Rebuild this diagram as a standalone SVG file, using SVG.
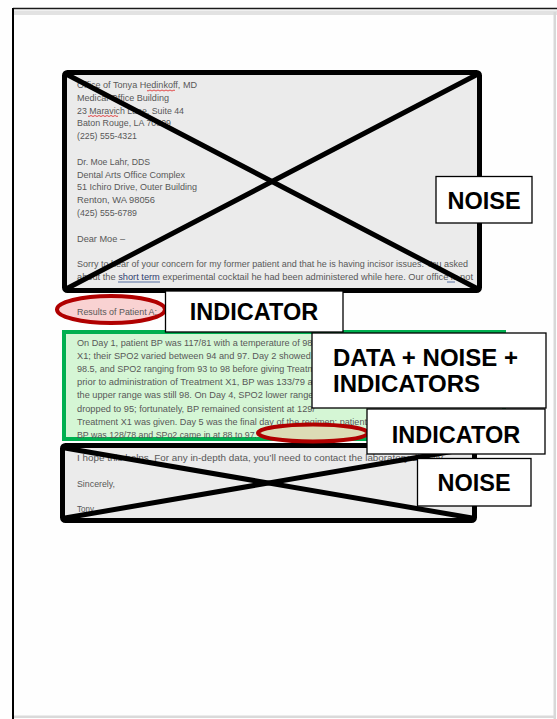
<svg xmlns="http://www.w3.org/2000/svg" width="557" height="719" viewBox="0 0 557 719">
<defs>
<style>
.doc{font-family:"Liberation Sans",Arial,sans-serif;font-size:8.6px;fill:#585858}
.lbl{font-family:"Liberation Sans",Arial,sans-serif;font-size:23.5px;font-weight:bold;fill:#000}
.lbox{fill:#fff;stroke:#000;stroke-width:1.3}
.gbox{fill:#ebebeb;stroke:#000;stroke-width:5;stroke-linejoin:round}
.xl{stroke:#000;stroke-width:5;stroke-linecap:round}
.sq{fill:none;stroke:#d22;stroke-width:0.8}
.ul{stroke:#2f4f8f;stroke-width:0.8}
</style>
</defs>
<rect x="0" y="0" width="557" height="719" fill="#fefefe"/>
<g id="page">
<rect x="14" y="10.5" width="543" height="4.5" fill="#e2e2e2"/>
<line x1="13" y1="8.5" x2="557" y2="8.5" stroke="#1a1a1a" stroke-width="1.6"/>
<line x1="13" y1="8" x2="13" y2="719" stroke="#000" stroke-width="2"/>
<rect x="553.5" y="12" width="2.5" height="707" fill="#d8d8d8"/>
<rect x="14" y="715.5" width="541" height="2.5" fill="#dadada"/>
</g>
<g id="noise-block-1">
<rect class="gbox" x="64.5" y="72.5" width="415" height="218" rx="3"/>
<text class="doc" x="77" y="88" textLength="120" lengthAdjust="spacingAndGlyphs">Office of Tonya Hedinkoff, MD</text>
<text class="doc" x="77" y="100.8" textLength="92" lengthAdjust="spacingAndGlyphs">Medical Office Building</text>
<text class="doc" x="77" y="113.6" textLength="107" lengthAdjust="spacingAndGlyphs">23 Maravich Lane, Suite 44</text>
<text class="doc" x="77" y="126.4" textLength="94" lengthAdjust="spacingAndGlyphs">Baton Rouge, LA  70809</text>
<text class="doc" x="77" y="139.2" textLength="60" lengthAdjust="spacingAndGlyphs">(225) 555-4321</text>
<text class="doc" x="77" y="164.8" textLength="73" lengthAdjust="spacingAndGlyphs">Dr. Moe Lahr, DDS</text>
<text class="doc" x="77" y="177.6" textLength="108" lengthAdjust="spacingAndGlyphs">Dental Arts Office Complex</text>
<text class="doc" x="77" y="190.4" textLength="120" lengthAdjust="spacingAndGlyphs">51 Ichiro Drive, Outer Building</text>
<text class="doc" x="77" y="203.2" textLength="78" lengthAdjust="spacingAndGlyphs">Renton, WA  98056</text>
<text class="doc" x="77" y="216" textLength="60" lengthAdjust="spacingAndGlyphs">(425) 555-6789</text>
<text class="doc" x="77" y="241.6" textLength="48" lengthAdjust="spacingAndGlyphs">Dear Moe –</text>
<text class="doc" x="77" y="267.2" textLength="391" lengthAdjust="spacingAndGlyphs">Sorry to hear of your concern for my former patient and that he is having incisor issues.  You asked</text>
<text class="doc" x="77" y="280" textLength="396" lengthAdjust="spacingAndGlyphs">about the <tspan fill="#2f3f6f">short term</tspan> experimental cocktail he had been administered while here.  Our office is not</text>
<path class="sq" d="M147 90.5 q1 1 2 0 t2 0 t2 0 t2 0 t2 0 t2 0 t2 0 t2 0 t2 0 t2 0 t2 0 t2 0 t2 0 t2 0"/>
<path class="sq" d="M88 116 q1 1 2 0 t2 0 t2 0 t2 0 t2 0 t2 0 t2 0 t2 0 t2 0 t2 0 t2 0 t2 0 t2 0 t2 0 t2 0"/>
<line class="ul" x1="118" y1="282" x2="160" y2="282"/>
<line class="ul" x1="447" y1="282" x2="455" y2="282"/>
<line class="xl" x1="66" y1="74" x2="478" y2="289"/>
<line class="xl" x1="478" y1="74" x2="66" y2="289"/>
</g>
<g id="noise-label-1">
<rect class="lbox" x="436" y="176.5" width="96" height="46.5"/>
<text class="lbl" x="484" y="208.5" text-anchor="middle">NOISE</text>
</g>
<g id="noise-block-2">
<rect class="gbox" x="62.5" y="445.5" width="412" height="75" rx="3"/>
<text class="doc" x="77" y="461" textLength="368" lengthAdjust="spacingAndGlyphs">I hope this helps.  For any in-depth data, you’ll need to contact the laboratory directly.</text>
<text class="doc" x="77" y="486.6" textLength="38" lengthAdjust="spacingAndGlyphs">Sincerely,</text>
<text class="doc" x="77" y="512.2" textLength="17" lengthAdjust="spacingAndGlyphs">Tony</text>
<line class="xl" x1="65" y1="448" x2="472" y2="518"/>
<line class="xl" x1="472" y1="448" x2="65" y2="518"/>
</g>
<g id="data-block">
<rect x="64" y="332" width="440" height="107" fill="#d5f6d5" stroke="#00b050" stroke-width="4"/>
<text class="doc" x="77" y="346" textLength="238" lengthAdjust="spacingAndGlyphs">On Day 1, patient BP was 117/81 with a temperature of 98.</text>
<text class="doc" x="77" y="359.1" textLength="243" lengthAdjust="spacingAndGlyphs">X1; their SPO2 varied between 94 and 97.  Day 2 showed lit</text>
<text class="doc" x="77" y="372.2" textLength="243" lengthAdjust="spacingAndGlyphs">98.5, and SPO2 ranging from 93 to 98 before giving Treatme</text>
<text class="doc" x="77" y="385.3" textLength="241" lengthAdjust="spacingAndGlyphs">prior to administration of Treatment X1, BP was 133/79 an</text>
<text class="doc" x="77" y="398.4" textLength="241" lengthAdjust="spacingAndGlyphs">the upper range was still 98.  On Day 4, SPO2 lower range i</text>
<text class="doc" x="77" y="411.5" textLength="238" lengthAdjust="spacingAndGlyphs">dropped to 95; fortunately, BP remained consistent at 129/</text>
<text class="doc" x="77" y="424.6" textLength="290" lengthAdjust="spacingAndGlyphs">Treatment X1 was given.  Day 5 was the final day of the regimen; patient</text>
<text class="doc" x="77" y="437.7" textLength="180" lengthAdjust="spacingAndGlyphs">BP was 128/78 and SPo2 came in at 88 to 97.</text>
</g>
<g id="indicator-1">
<ellipse cx="111" cy="309.5" rx="54" ry="13.5" fill="#f9d2d2" stroke="#b00000" stroke-width="4"/>
<text class="doc" x="77" y="315" textLength="80" lengthAdjust="spacingAndGlyphs">Results of Patient A:</text>
</g>
<g id="indicator-label-1">
<rect class="lbox" x="165.5" y="291" width="177.5" height="41"/>
<text class="lbl" x="254" y="319.5" text-anchor="middle">INDICATOR</text>
</g>
<g id="indicator-2">
<ellipse cx="313" cy="433" rx="55" ry="8.5" fill="#dcdcb6" stroke="#b00000" stroke-width="4"/>
</g>
<g id="data-label">
<rect class="lbox" x="312" y="333" width="234" height="75"/>
<text class="lbl" x="333" y="366" style="font-size:24px">DATA + NOISE +</text>
<text class="lbl" x="333" y="392" style="font-size:24px">INDICATORS</text>
</g>
<g id="indicator-label-2">
<rect class="lbox" x="367" y="409" width="178" height="45"/>
<text class="lbl" x="456" y="443" text-anchor="middle">INDICATOR</text>
</g>
<g id="noise-label-2">
<rect class="lbox" x="417.5" y="458.5" width="113.5" height="47.5"/>
<text class="lbl" x="474" y="490.5" text-anchor="middle">NOISE</text>
</g>
<g id="connectors"></g>
</svg>
